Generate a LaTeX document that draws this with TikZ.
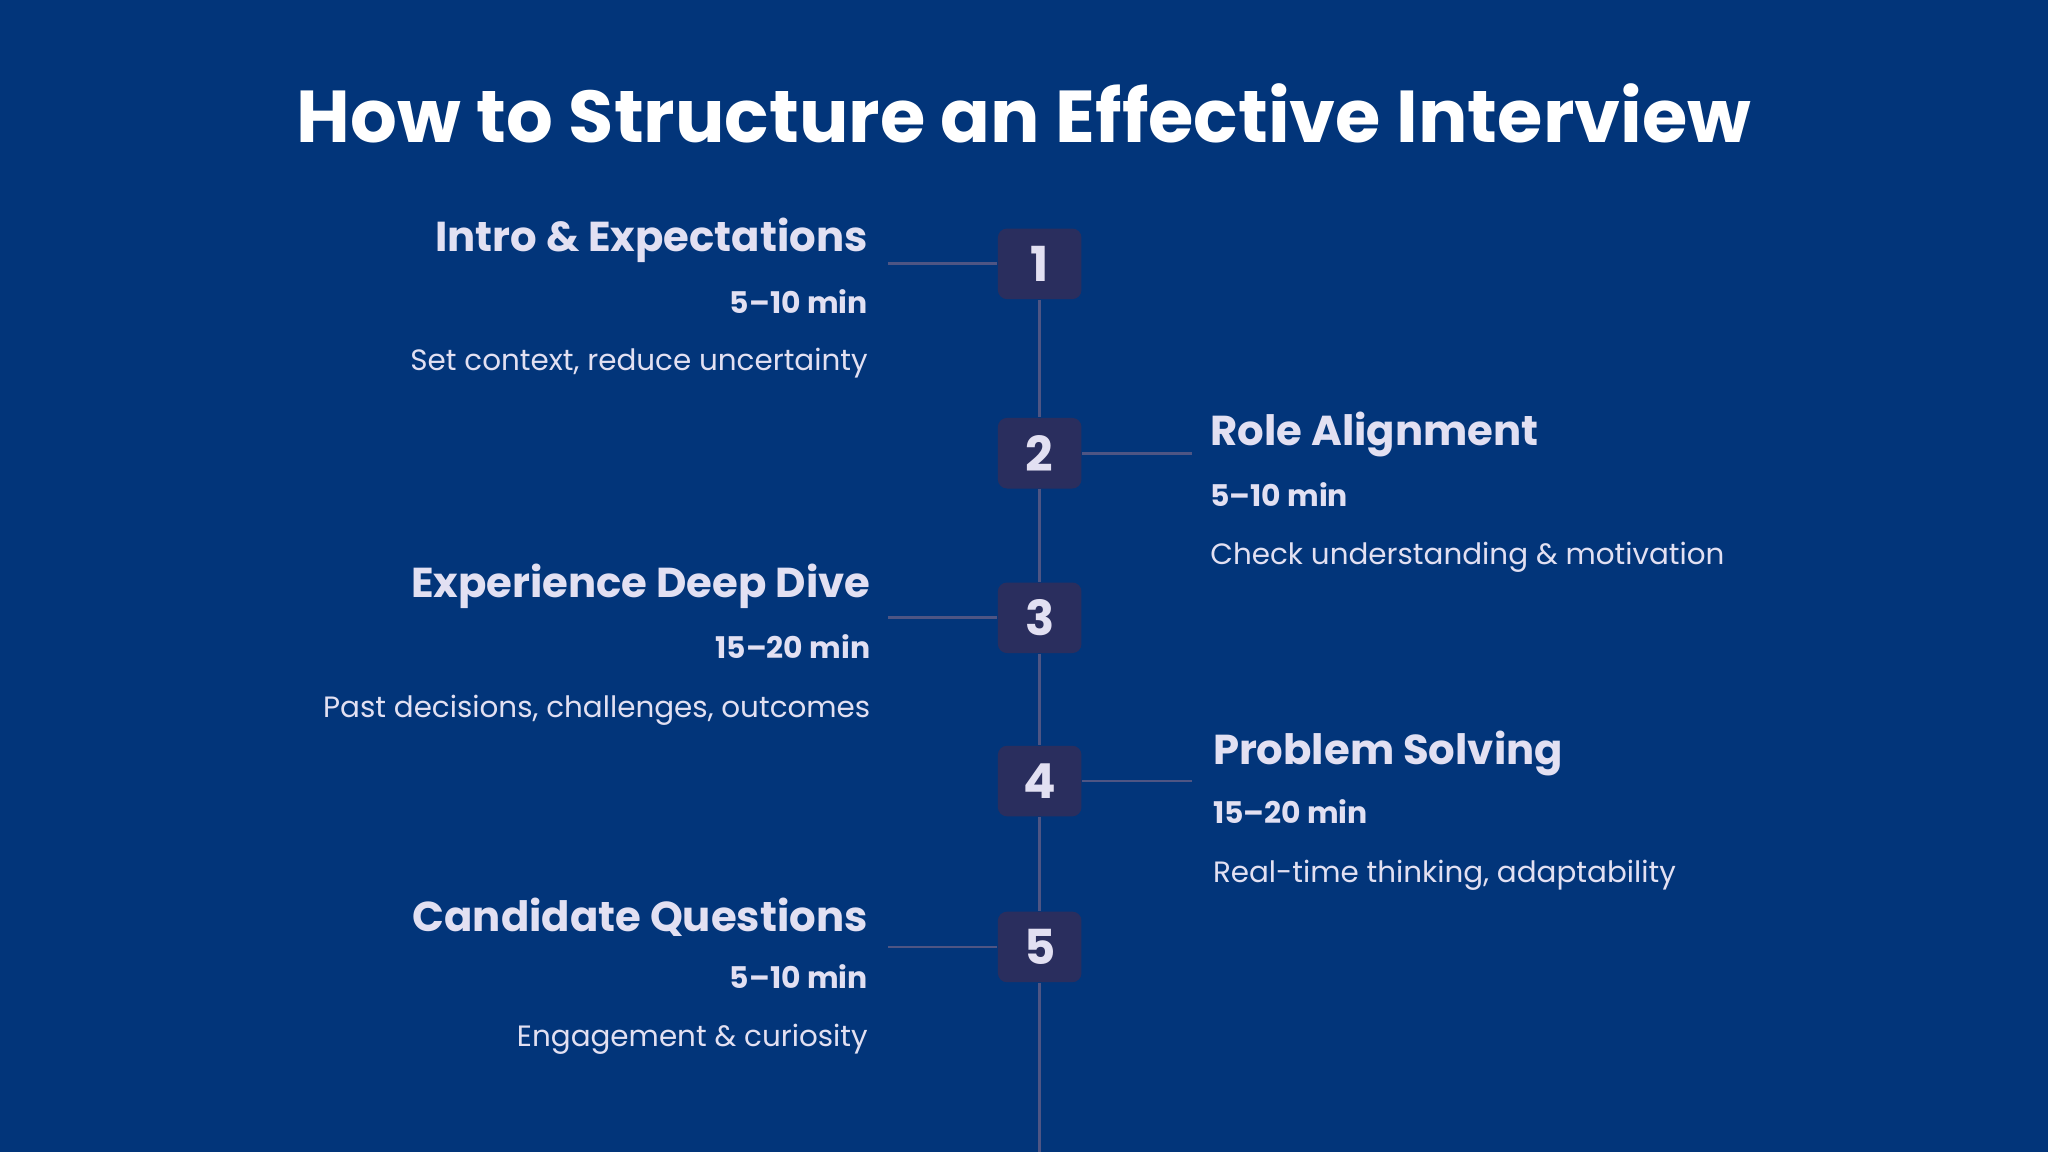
\documentclass[tikz,border=0pt]{standalone}
\usepackage{fontspec}
\setmainfont{Poppins}
\usetikzlibrary{positioning}
\definecolor{bgblue}{HTML}{02357A}
\definecolor{boxblue}{HTML}{2A2E5E}
\definecolor{linegray}{HTML}{4E5584}
\definecolor{txt}{HTML}{E2E0F2}
\tikzset{
  num/.style={fill=boxblue, rounded corners=2pt, minimum width=0.64cm, minimum height=0.54cm, text=txt, font=\bfseries\fontsize{10.5}{11}\selectfont},
  head/.style={text=txt, font=\bfseries\fontsize{9.1}{10}\selectfont, inner sep=0pt},
  dur/.style={text=txt, font=\bfseries\fontsize{6.5}{7}\selectfont, inner sep=0pt},
  desc/.style={text=txt, font=\fontsize{6.4}{7}\selectfont, inner sep=0pt},
  link/.style={linegray, line width=0.6pt}
}
\begin{document}
\begin{tikzpicture}[x=0.01cm,y=-0.01cm]
\fill[bgblue] (0,0) rectangle (1568,882);
\useasboundingbox (0,0) rectangle (1568,882);
\node[text=white, font=\bfseries\fontsize{16}{17}\selectfont] (title) at (784,87) {How to Structure an Effective Interview};
\coordinate (bottom) at (796,882);
\node[num] (n1) at (796,202) {1};
\node[num] (n2) at (796,347) {2};
\node[num] (n3) at (796,473) {3};
\node[num] (n4) at (796,598) {4};
\node[num] (n5) at (796,725) {5};
\coordinate (c1) at (680,202);
\coordinate (c2) at (913,347);
\coordinate (c3) at (680,473);
\coordinate (c4) at (913,598);
\coordinate (c5) at (680,725);
\draw[link] (n1) -- (n2) -- (n3) -- (n4) -- (n5) -- (bottom);
\draw[link] (c1) -- (n1.west);
\draw[link] (n2.east) -- (c2);
\draw[link] (c3) -- (n3.west);
\draw[link] (n4.east) -- (c4);
\draw[link] (c5) -- (n5.west);
% left items
\node[head, anchor=east] (h1) at (665,184) {Intro \& Expectations};
\node[dur, anchor=east] (d1) at (665,231) {5–10 min};
\node[desc, anchor=east] (t1) at (665,278) {Set context, reduce uncertainty};
\node[head, anchor=east] (h3) at (667,449) {Experience Deep Dive};
\node[dur, anchor=east] (d3) at (667,495) {15–20 min};
\node[desc, anchor=east] (t3) at (667,544) {Past decisions, challenges, outcomes};
\node[head, anchor=east] (h5) at (665,702) {Candidate Questions};
\node[dur, anchor=east] (d5) at (665,748) {5–10 min};
\node[desc, anchor=east] (t5) at (665,796) {Engagement \& curiosity};
% right items
\node[head, anchor=west] (h2) at (926,333) {Role Alignment};
\node[dur, anchor=west] (d2) at (926,379) {5–10 min};
\node[desc, anchor=west] (t2) at (926,427) {Check understanding \& motivation};
\node[head, anchor=west] (h4) at (928,577) {Problem Solving};
\node[dur, anchor=west] (d4) at (928,621) {15–20 min};
\node[desc, anchor=west] (t4) at (928,670) {Real-time thinking, adaptability};
\end{tikzpicture}
\end{document}
